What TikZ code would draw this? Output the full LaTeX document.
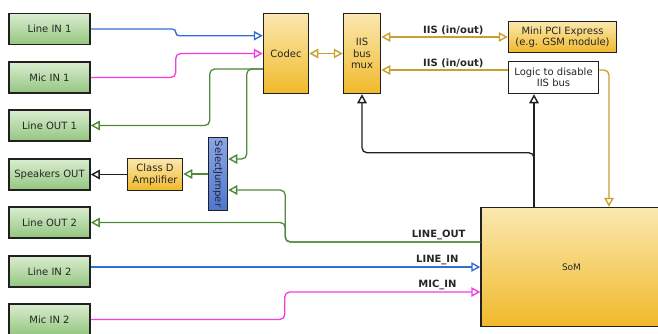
\documentclass[tikz,border=0pt]{standalone}
\usepackage{fontspec}
\setmainfont{DejaVu Sans}
\usetikzlibrary{arrows.meta}
\definecolor{verdeA}{HTML}{DAEDD0}
\definecolor{verdeB}{HTML}{93C67F}
\definecolor{amarA}{HTML}{FBE8B0}
\definecolor{amarB}{HTML}{F0B92A}
\definecolor{azulA}{HTML}{8AA6E8}
\definecolor{azulB}{HTML}{4E76CF}
\definecolor{lverde}{HTML}{4E8A3A}
\definecolor{lazul}{HTML}{2F6ED6}
\definecolor{lmagenta}{HTML}{F43AE0}
\definecolor{loro}{HTML}{C8A02E}
\definecolor{lnegro}{HTML}{202020}
\begin{document}
\begin{tikzpicture}[x=1pt,y=-1pt,>={Triangle[open,length=9pt,width=9.5pt,line width=1.4pt]},
    caja/.style={draw=lnegro,line width=1.5pt,inner sep=0pt,align=center,
      text=black!85,font=\fontsize{10}{11.5}\selectfont},
    verde/.style={caja,top color=verdeA,bottom color=verdeB,minimum width=81pt,minimum height=31pt},
    amarilla/.style={caja,top color=amarA,bottom color=amarB},
    senal/.style={font=\bfseries\fontsize{10}{12}\selectfont,inner sep=1.5pt,text=black!85},
    cable/.style={line width=1.3pt,rounded corners=5pt},
    gverde/.style={cable,lverde},
    gazul/.style={cable,lazul},
    gmagenta/.style={cable,lmagenta},
    goro/.style={cable,loro},
    gnegro/.style={cable,lnegro}]
        \useasboundingbox (0,0) rectangle (658,333);

        % Conectores de audio
        \node[verde] (li1) at (49.5,29) {Line IN 1};
        \node[verde] (mi1) at (49.5,77.5) {Mic IN 1};
        \node[verde] (lo1) at (49.5,125.5) {Line OUT 1};
        \node[verde] (spk) at (49.5,174.5) {Speakers OUT};
        \node[verde] (lo2) at (49.5,222.5) {Line OUT 2};
        \node[verde] (li2) at (49.5,271.5) {Line IN 2};
        \node[verde] (mi2) at (49.5,319.5) {Mic IN 2};

        % Bloques centrales
        \node[amarilla,minimum width=45pt,minimum height=80pt] (codec) at (286,53.5) {Codec};
        \node[amarilla,minimum width=37pt,minimum height=80pt] (mux) at (362,53.5) {IIS\\bus\\mux};
        \node[amarilla,minimum width=108pt,minimum height=31pt] (pci) at (562.5,37) {Mini PCI Express\\(e.g. GSM module)};
        \node[caja,fill=white,minimum width=90pt,minimum height=32pt] (logica) at (553.5,77.5) {Logic to disable\\IIS bus};
        \node[amarilla,minimum width=55pt,minimum height=32pt] (amp) at (155,174.5) {Class D\\Amplifier};
        \node[caja,top color=azulA,bottom color=azulB,minimum width=19pt,minimum height=73pt] (jumper) at (218,174)
            {\rotatebox{-90}{SelectJumper}};
        \node[amarilla,minimum width=181pt,minimum height=119pt,font=\fontsize{9}{11}\selectfont] (som) at (571.5,267) {SoM};

        % Puntos de conexion
        \coordinate (cout) at ([yshift=-15.5pt]codec.west);
        \coordinate (sout) at ([yshift=25pt]som.west);
        \coordinate (smic) at ([yshift=-25pt]som.west);
        \coordinate (lin) at ([yshift=7.5pt]logica.west);
        \coordinate (lout) at ([yshift=7.5pt]logica.east);
        \coordinate (sctl) at ([xshift=-37.5pt]som.north);

        % Entradas hacia el codec
        \draw[gazul,rounded corners=3.5pt,->] (li1.east) -- ++(85,0) |- ([yshift=-23pt]codec.north west);
        \draw[gmagenta,->] (mi1.east) -- ++(85,0) |- (codec.west);

        % Salidas del codec
        \draw[gverde,->] (cout) -- ++(-53,0) |- (lo1.east);
        \draw[gverde,->] (cout) -- ++(-16,0) |- ([yshift=15pt]jumper.east);
        \draw[gverde,->] (jumper.west) -- (amp.east |- jumper.west);
        \draw[gnegro,->] (amp.west) -- (spk.east |- amp.west);

        % Senales del SoM
        \draw[gverde,->] (sout) -- ++(-195,0) |- ([yshift=-16pt]jumper.east);
        \draw[gverde,->] (sout) -- ++(-195,0) |- (lo2.east);
        \node[senal,anchor=south east] (tlo) at ([xshift=-13pt]sout) {LINE\_OUT};
        \draw[gazul,->] ([yshift=4.5pt]li2.east) -- (som.west);
        \node[senal,anchor=south east] (tli) at ([xshift=-20pt]som.west) {LINE\_IN};
        \draw[gmagenta,->] (mi2.east) -- ++(194,0) |- (smic);
        \node[senal,anchor=south east] (tmi) at ([xshift=-22pt]smic) {MIC\_IN};

        % Bus IIS
        \draw[goro,<->] (codec.east) -- (mux.west);
        \draw[goro,<->] (mux.east |- pci.west) -- (pci.west) node[senal,pos=0.57,above] {IIS (in/out)};
        \draw[goro,->] (lin) -- (mux.east |- lin) node[senal,pos=0.43,above] {IIS (in/out)};
        \draw[goro,->] (lout) -| ([xshift=37.5pt]som.north);

        % Control desde el SoM
        \draw[gnegro,->] (sctl) -- ([xshift=-19.5pt]logica.south);
        \draw[gnegro,->] (sctl) -- ++(0,-54) -| (mux.south);
    \end{tikzpicture}
\end{document}
